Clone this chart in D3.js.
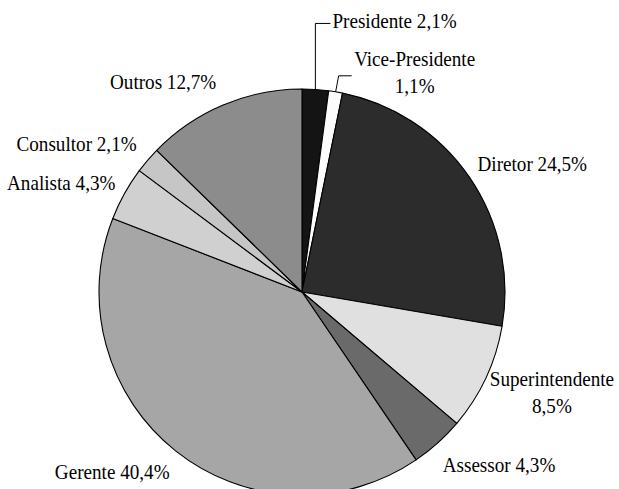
<!DOCTYPE html>
<html>
<head>
<meta charset="utf-8">
<script src="https://cdn.jsdelivr.net/npm/d3@7"></script>
<style>
  body { margin: 0; background: #fff; }
  text { font-family: "Liberation Serif", "Times New Roman", serif; font-size: 22px; fill: #000; }
</style>
</head>
<body>
<div id="chart"></div>
<script>
// cargos e percentuais (sentido horário a partir do topo)
var categories = ["Presidente", "Vice-Presidente", "Diretor", "Superintendente", "Assessor",
                  "Gerente", "Analista", "Consultor", "Outros"];
var values = [2.1, 1.1, 24.5, 8.5, 4.3, 40.4, 4.3, 2.1, 12.7];
var pctLabels = ["2,1%", "1,1%", "24,5%", "8,5%", "4,3%", "40,4%", "4,3%", "2,1%", "12,7%"];

var fills = ["#141414", "#fbfbfb", "#2c2c2c", "#e0e0e0", "#6a6a6a",
             "#a6a6a6", "#d0d0d0", "#c6c6c6", "#8c8c8c"];

// label placement relative to the slice's outer edge point: dx, dy (baseline), anchor, two lines?
var labelLayout = [
  { dx: 17, dy: -61, anchor: "start", split: false },
  { dx: 79, dy: -26, anchor: "middle", split: true },
  { dx: 8, dy: -6, anchor: "start", split: false },
  { dx: 66, dy: 8, anchor: "middle", split: true },
  { dx: 5, dy: 29, anchor: "start", split: false },
  { dx: -6, dy: 28, anchor: "end", split: false },
  { dx: -9, dy: -4, anchor: "end", split: false },
  { dx: -11, dy: -9, anchor: "end", split: false },
  { dx: -60, dy: -16, anchor: "middle", split: false }
];

var width = 619, height = 489;
var cx = 302, cy = 292, radius = 203;
var squeeze = 0.87; // the original type is a little narrow

var svg = d3.select("#chart").append("svg")
  .attr("width", width)
  .attr("height", height);

var g = svg.append("g").attr("transform", `translate(${cx},${cy})`);

var data = categories.map((c, i) => ({ name: c, value: values[i], pct: pctLabels[i], i: i }));

var pie = d3.pie().sort(null).value(d => d.value);
var arc = d3.arc().innerRadius(0).outerRadius(radius);
var arcs = pie(data);

g.selectAll("path.slice")
  .data(arcs)
  .enter()
  .append("path")
  .attr("class", "slice")
  .attr("d", arc)
  .attr("fill", d => fills[d.data.i])
  .attr("stroke", "#000")
  .attr("stroke-width", 1.1)
  .attr("stroke-linejoin", "round");

function edgePoint(d) {
  var a = (d.startAngle + d.endAngle) / 2;
  return [radius * Math.sin(a), -radius * Math.cos(a)];
}

var labels = g.selectAll("text.lbl")
  .data(arcs)
  .enter()
  .append("text")
  .attr("class", "lbl")
  .attr("text-anchor", d => labelLayout[d.data.i].anchor)
  .attr("transform", function(d) {
    var p = edgePoint(d), lay = labelLayout[d.data.i];
    return `translate(${p[0] + lay.dx},${p[1] + lay.dy}) scale(${squeeze},1)`;
  });

labels.each(function(d) {
  var t = d3.select(this);
  if (labelLayout[d.data.i].split) {
    t.append("tspan").attr("x", 0).text(d.data.name);
    t.append("tspan").attr("x", 0).attr("dy", 27).text(d.data.pct);
  } else {
    t.text(d.data.name + " " + d.data.pct);
  }
});

// leader lines for the two thin slices at the top
var leaders = [
  { i: 0, pts: [[0, 0], [0, -66], [15, -66]] },
  { i: 1, pts: [[0, 0], [3, -16], [16, -16]] }
];
leaders.forEach(function(l) {
  var p = edgePoint(arcs[l.i]);
  g.append("path")
    .attr("d", d3.line()(l.pts.map(q => [p[0] + q[0], p[1] + q[1]])))
    .attr("fill", "none")
    .attr("stroke", "#000")
    .attr("stroke-width", 1);
});
</script>
</body>
</html>
